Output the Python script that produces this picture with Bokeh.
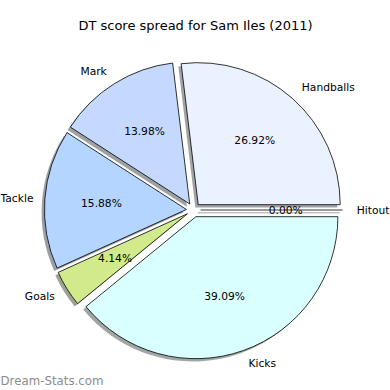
import numpy as np
from bokeh.plotting import figure
from bokeh.models import Label, ColumnDataSource, Range1d
from bokeh.embed import file_html
from bokeh.resources import INLINE
from bokeh.core.properties import value

# ---- data ----
labels = ["Handballs", "Mark", "Tackle", "Goals", "Kicks", "Hitout"]
percents = [26.92, 13.98, 15.88, 4.14, 39.09, 0.00]
colors = ["#ebf2ff", "#c5d9ff", "#b4d5ff", "#d0ea8c", "#d9ffff", "#f0f0f0"]
explode = [0.05, 0.05, 0.05, 0.05, 0.05, 0.05]
label_dist = [1.1, 1.1, 1.08, 1.1, 1.1, 1.1]
title_text = "DT score spread for Sam Iles (2011)"
watermark_text = "Dream-Stats.com"

# ---- layout ----
W = H = 390
R_PX = 142.0
CX, CY = 193.0, 209.5  # pie centre in canvas px (from left, from top)
FONT = "DejaVu Sans"

p = figure(width=W, height=H, output_backend="svg", toolbar_location=None,
           x_range=Range1d(-CX / R_PX, (W - CX) / R_PX),
           y_range=Range1d(-(H - CY) / R_PX, CY / R_PX),
           x_axis_location=None, y_axis_location=None, min_border=0)
p.grid.visible = False
p.outline_line_color = None
p.background_fill_color = "white"

vals = np.array(percents, dtype=float)
frac = vals / vals.sum()
t2 = np.cumsum(frac) * 2 * np.pi
t1 = t2 - frac * 2 * np.pi
mid = (t1 + t2) / 2
ex = np.array(explode)
xc = ex * np.cos(mid)
yc = ex * np.sin(mid)


def shade(h):
    h = h.lstrip("#")
    r, g, b = (int(h[i:i + 2], 16) for i in (0, 2, 4))
    return "#%02x%02x%02x" % (int(r * 0.3), int(g * 0.3), int(b * 0.3))


nz = frac > 0
z = ~nz
src = ColumnDataSource(dict(
    x=xc[nz], y=yc[nz], sx=xc[nz] - 0.02, sy=yc[nz] - 0.02,
    s=t1[nz], e=t2[nz], c=[colors[i] for i in range(len(colors)) if nz[i]],
    sc=[shade(colors[i]) for i in range(len(colors)) if nz[i]]))

# shadows
p.wedge(x="sx", y="sy", radius=1.0, start_angle="s", end_angle="e",
        fill_color="sc", fill_alpha=0.5, line_color=None, source=src)
p.segment(x0=xc[z] - 0.02, y0=yc[z] - 0.02,
          x1=xc[z] - 0.02 + np.cos(t1[z]), y1=yc[z] - 0.02 + np.sin(t1[z]),
          line_color="#474747", line_alpha=0.5, line_width=1)
# wedges
p.wedge(x="x", y="y", radius=1.0, start_angle="s", end_angle="e",
        fill_color="c", line_color="black", line_width=0.8, source=src)
p.segment(x0=xc[z], y0=yc[z], x1=xc[z] + np.cos(t1[z]), y1=yc[z] + np.sin(t1[z]),
          line_color="black", line_width=0.8)

# percentage labels
pct_src = ColumnDataSource(dict(
    x=xc + 0.6 * np.cos(mid), y=yc + 0.6 * np.sin(mid),
    t=["%.2f%%" % v for v in percents]))
p.text(x="x", y="y", text="t", source=pct_src, text_align="center",
       text_baseline="middle", text_font=value(FONT), text_font_size="10.7px",
       text_color="black")

# category labels
ld = np.array(label_dist)
lx = xc + ld * np.cos(mid)
ly = yc + ld * np.sin(mid)
lab_src = ColumnDataSource(dict(
    x=lx, y=ly, t=labels,
    a=["left" if np.cos(m) > 0 else "right" for m in mid]))
p.text(x="x", y="y", text="t", source=lab_src, text_align="a",
       text_baseline="middle", text_font=value(FONT), text_font_size="10.7px",
       text_color="black")

p.add_layout(Label(x=195, y=H - 25, x_units="screen", y_units="screen",
                   text=title_text, text_align="center", text_baseline="middle",
                   text_font=FONT, text_font_size="13px", text_color="black"))
p.add_layout(Label(x=0, y=10, x_units="screen", y_units="screen",
                   text=watermark_text, text_align="left", text_baseline="middle",
                   text_font=FONT, text_font_size="11.8px", text_color="#8c8c8c"))

open("out.html", "w").write(file_html(p, INLINE))
